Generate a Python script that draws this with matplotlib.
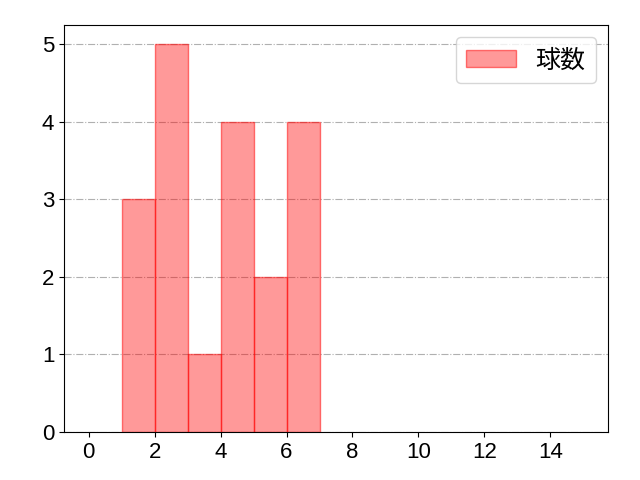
import matplotlib
matplotlib.use("Agg")
import matplotlib.pyplot as plt

plt.rcParams['font.family'] = ['Liberation Sans', 'Noto Sans CJK JP', 'DejaVu Sans']

bin_left = [1, 2, 3, 4, 5, 6]
counts = [3, 5, 1, 4, 2, 4]
label = "球数"

fig, ax = plt.subplots(figsize=(6.4, 4.8), dpi=100)
ax.bar(bin_left, counts, width=1, align='edge', facecolor=(1, 0, 0, 0.4),
       edgecolor=(1, 0, 0, 0.5), linewidth=1, label=label, zorder=2)
ax.set_xlim(-0.75, 15.75)
ax.set_ylim(0, 5.25)
ax.set_xticks([0, 2, 4, 6, 8, 10, 12, 14])
ax.set_yticks([0, 1, 2, 3, 4, 5])
ax.tick_params(labelsize=16)
ax.grid(axis='y', linestyle='-.', color='#b0b0b0', linewidth=0.8, zorder=0)
ax.set_axisbelow(True)
ax.legend(loc='upper right', prop={'family': ['Noto Sans CJK JP'], 'size': 18})
fig.subplots_adjust(left=0.1, right=0.95, bottom=0.1, top=0.948)
fig.savefig("out.png")
